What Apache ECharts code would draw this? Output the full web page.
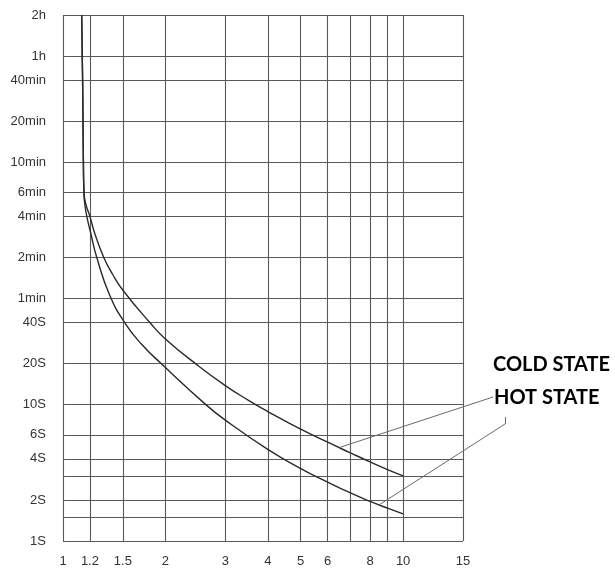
<!DOCTYPE html>
<html>
<head>
<meta charset="utf-8">
<script src="https://cdn.jsdelivr.net/npm/echarts@6/dist/echarts.min.js"></script>
<style>html,body{margin:0;padding:0;background:#fff}#c{width:615px;height:568px}</style>
</head>
<body>
<div id="c"></div>
<script>
// Current multiple (x) grid values and tick labels
const xGridValues = [1, 1.2, 1.5, 2, 3, 4, 5, 6, 7, 8, 9, 10, 15];
const xTickLabels = ['1', '1.2', '1.5', '2', '3', '4', '5', '6', '', '8', '', '10', '15'];
// Trip time (seconds) grid values and tick labels
const yGridValues = [1, 1.5, 2, 3, 4, 6, 10, 20, 40, 60, 120, 240, 360, 600, 1200, 2400, 3600, 7200];
const yTickLabels = ['1S', '', '2S', '', '4S', '6S', '10S', '20S', '40S', '1min', '2min', '4min', '6min', '10min', '20min', '40min', '1h', '2h'];

// Cold state curve: [current multiple, seconds]
const coldCurve = [
  [1.135, 7200], [1.139, 3600], [1.142, 2400], [1.145, 1200], [1.148, 600], [1.153, 360],
  [1.165, 300], [1.2, 240], [1.24, 180], [1.318, 120], [1.40, 90], [1.5, 69],
  [1.8, 40], [2.0, 30.3], [2.49, 19.4], [3, 13.8], [3.5, 10.8], [4, 8.9], [5, 6.6],
  [6, 5.3], [7, 4.43], [8, 3.8], [9, 3.34], [10, 3.0]
];
// Hot state curve
const hotCurve = [
  [1.135, 7200], [1.139, 3600], [1.142, 2400], [1.145, 1200], [1.148, 600], [1.152, 360],
  [1.158, 300], [1.175, 240], [1.207, 180], [1.257, 120], [1.37, 64], [1.518, 40],
  [1.7, 27.8], [1.944, 20], [2.63, 10], [3, 7.7], [4, 4.7], [5, 3.4],
  [6, 2.7], [7, 2.25], [8, 1.95], [9, 1.74], [10, 1.58]
];

const seriesNames = ['COLD STATE', 'HOT STATE'];
const coldPointer = [6.5, 4.85];
const hotPointer = [8.5, 1.84];

const chart = echarts.init(document.getElementById('c'));

const gridLineStyle = { color: '#5a5a5a', width: 1.1, type: 'solid' };
const tickFont = { fontFamily: 'Liberation Sans', fontSize: 13, color: '#333' };

const vLines = xGridValues.map((v, i) => ({
  xAxis: v,
  label: xTickLabels[i] ? Object.assign({ show: true, position: 'start', distance: 14, formatter: xTickLabels[i] }, tickFont) : { show: false }
}));
const hLines = yGridValues.map((v, i) => ({
  yAxis: v,
  label: yTickLabels[i] ? Object.assign({ show: true, position: 'start', distance: 17, formatter: yTickLabels[i] }, tickFont) : { show: false }
}));

chart.setOption({
  animation: false,
  backgroundColor: '#fff',
  grid: { left: 63, right: 152, top: 15, bottom: 27, containLabel: false },
  xAxis: {
    type: 'log', logBase: 10, min: 1, max: 15,
    axisLine: { show: false }, axisTick: { show: false }, axisLabel: { show: false }, splitLine: { show: false }, minorSplitLine: { show: false }
  },
  yAxis: {
    type: 'log', logBase: 10, min: 1, max: 7200,
    axisLine: { show: false }, axisTick: { show: false }, axisLabel: { show: false }, splitLine: { show: false }, minorSplitLine: { show: false }
  },
  series: [
    {
      name: seriesNames[0], type: 'line', data: coldCurve, showSymbol: false, smooth: 0.5,
      lineStyle: { color: '#2a2a2a', width: 1.4 }, z: 3, silent: true,
      markLine: {
        silent: true, symbol: ['none', 'none'], z: 1, animation: false,
        lineStyle: gridLineStyle,
        data: vLines.concat(hLines)
      }
    },
    {
      name: seriesNames[1], type: 'line', data: hotCurve, showSymbol: false, smooth: 0.5,
      lineStyle: { color: '#2a2a2a', width: 1.4 }, z: 3, silent: true,
      markLine: {
        silent: true, symbol: ['none', 'none'], z: 4, animation: false,
        lineStyle: { color: '#6a6a6a', width: 1, type: 'solid' },
        label: { show: false },
        data: [
          [{ coord: coldPointer }, { x: 493, y: 397 }],
          [{ coord: hotPointer }, { x: 505, y: 424 }],
          [{ x: 505, y: 424 }, { x: 505, y: 417 }]
        ]
      }
    }
  ],
  graphic: [
    { type: 'text', left: 493, top: 355, style: { text: seriesNames[0], font: 'bold 20px Lato', fill: '#000' } },
    { type: 'text', left: 494, top: 388, style: { text: seriesNames[1], font: 'bold 20px Lato', fill: '#000' } }
  ]
});
</script>
</body>
</html>
